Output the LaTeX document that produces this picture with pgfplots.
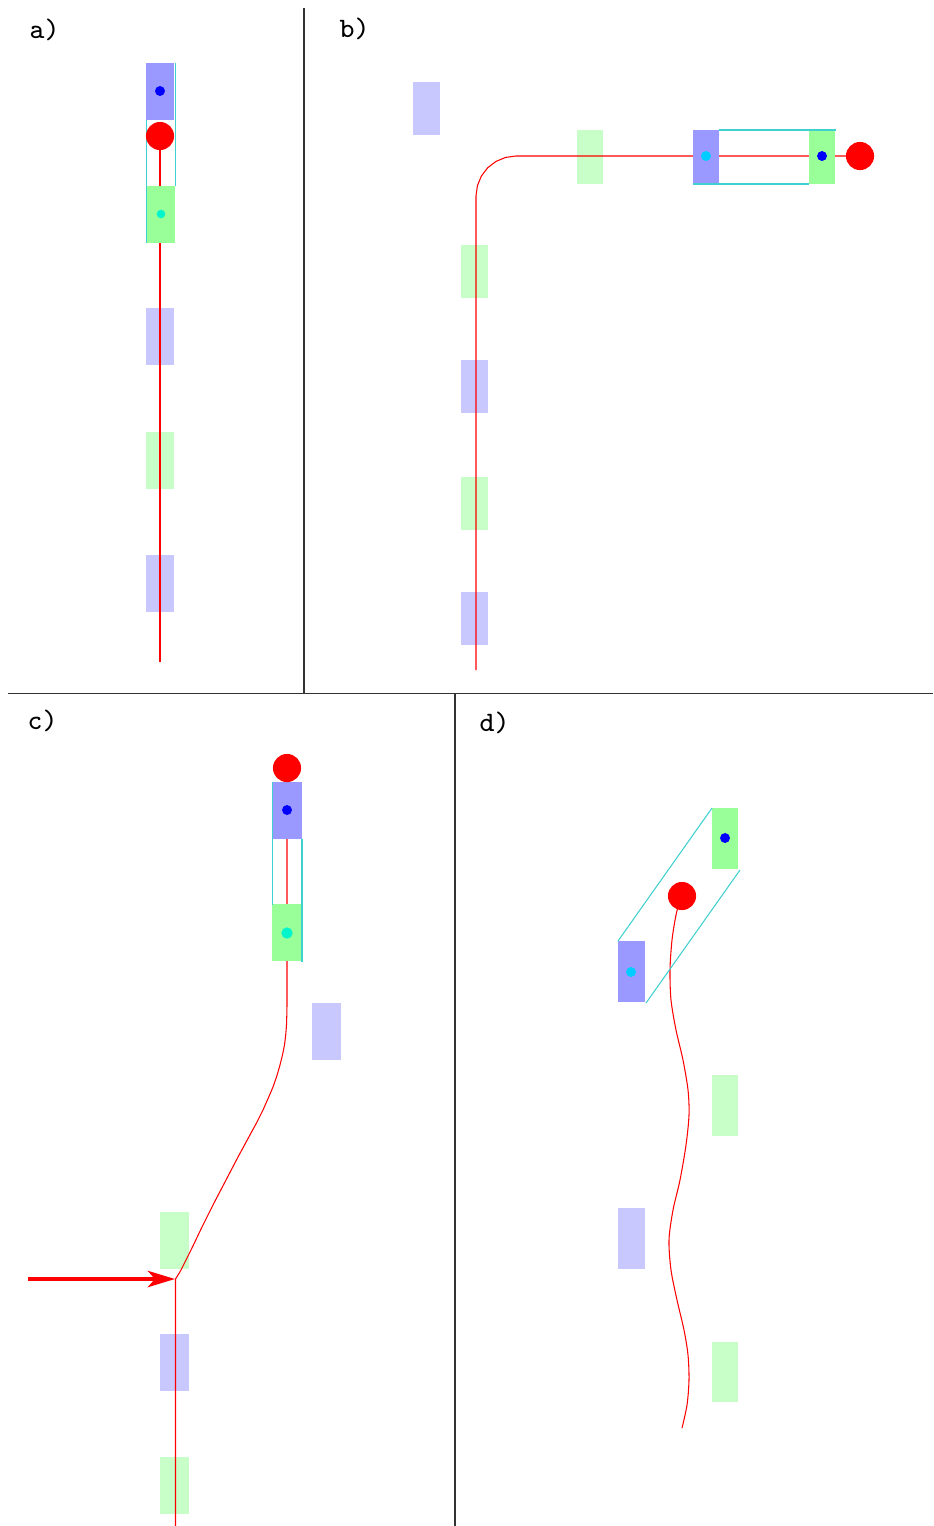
\documentclass[border=0pt]{standalone}
\usepackage{pgfplots}
\pgfplotsset{compat=1.18}
\usetikzlibrary{arrows.meta}
\definecolor{dblue}{RGB}{153,153,255}
\definecolor{dgreen}{RGB}{153,255,153}
\definecolor{lblue}{RGB}{200,200,255}
\definecolor{lgreen}{RGB}{200,255,200}
\definecolor{outl}{RGB}{64,208,208}
\definecolor{cdotb}{RGB}{0,205,255}
\definecolor{cdotg}{RGB}{0,245,205}
\definecolor{traj}{RGB}{255,0,0}
\newcommand{\rect}[5]{\addplot[fill=#1,draw=none,forget plot] coordinates {(#2,#3) (#4,#3) (#4,#5) (#2,#5)};}
\begin{document}
\begin{tikzpicture}
\begin{axis}[
  width=9.33cm, height=15.26cm, scale only axis,
  xmin=0, xmax=933, ymin=0, ymax=1526, y dir=reverse,
  hide axis, clip=false,
]
% panel separators
\addplot[draw=black!80, line width=0.4pt, mark=none] coordinates {(304,8) (304,694)};
\addplot[draw=black!80, line width=0.4pt, mark=none] coordinates {(8,693.5) (933,693.5)};
\addplot[draw=black!80, line width=0.4pt, mark=none] coordinates {(455,694) (455,1526)};
% light rectangles
\rect{lblue}{146}{308}{174}{365}
\rect{lgreen}{146}{432}{174}{489}
\rect{lblue}{146}{555}{174}{612}
\rect{lblue}{413}{82}{440}{135}
\rect{lgreen}{577}{130}{603}{184}
\rect{lgreen}{461}{245}{488}{298}
\rect{lblue}{461}{360}{488}{413}
\rect{lgreen}{461}{477}{488}{530}
\rect{lblue}{461}{592}{488}{645}
\rect{lblue}{312}{1003}{341}{1060}
\rect{lgreen}{160}{1212}{189}{1269}
\rect{lblue}{160}{1334}{189}{1391}
\rect{lgreen}{160}{1457}{189}{1514}
\rect{lgreen}{712}{1075}{738}{1136}
\rect{lblue}{618}{1208}{645}{1269}
\rect{lgreen}{712}{1342}{738}{1402}
% red trajectories
\addplot[draw=traj, line width=0.3pt, mark=none] coordinates {(160,136) (160,662)};
\addplot[draw=traj, line width=0.3pt, mark=none] coordinates {(476,670) (476,196) (477.4,185.6) (481.4,176) (487.7,167.7) (496,161.4) (505.6,157.4) (516,156) (860,156)};
\addplot[draw=traj, line width=0.3pt, mark=none, line join=round] coordinates {(287,768) (287,1005) (286.8,1015) (286.5,1025) (285.7,1035) (284.5,1045) (282.5,1055) (280,1065) (276.8,1076) (273,1087) (268.3,1098) (263,1110) (257,1122) (251,1133) (244.5,1145) (238,1157) (232,1168.5) (226,1180) (220,1191.5) (214,1203) (208,1215) (202,1227) (196.5,1238.5) (191,1250) (186,1260) (181,1270) (178,1275) (175.5,1279) (175.5,1526)};
\addplot[draw=traj, line width=0.3pt, mark=none, smooth] coordinates {(681,896) (676,915) (672,940) (670,970) (671,1000) (676,1030) (683,1060) (688,1090) (689,1115) (686,1145) (680,1180) (673,1210) (669,1240) (671,1270) (677,1300) (684,1330) (688,1355) (689,1380) (687,1405) (682,1428)};
\addplot[draw=traj, line width=1.2pt, mark=none, -{Stealth[length=7.7pt,width=4.6pt,inset=2pt]}] coordinates {(28,1279) (175,1279)};
% dark rectangles
\rect{dblue}{146}{63}{174}{120}
\rect{dgreen}{147}{186}{175}{243}
\rect{dblue}{693}{130}{719}{184}
\rect{dgreen}{809}{130}{835}{184}
\rect{dblue}{272}{782}{302}{839}
\rect{dgreen}{272}{904}{302}{961}
\rect{dgreen}{712}{808}{738}{869}
\rect{dblue}{618}{941}{645}{1002}
% outlines
\addplot[draw=outl, line width=0.3pt, mark=none] coordinates {(146.5,120) (146.5,243)};
\addplot[draw=outl, line width=0.3pt, mark=none] coordinates {(175.5,63) (175.5,186)};
\addplot[draw=outl, line width=0.3pt, mark=none] coordinates {(719,130) (836,130)};
\addplot[draw=outl, line width=0.3pt, mark=none] coordinates {(693,184) (809,184)};
\addplot[draw=outl, line width=0.3pt, mark=none] coordinates {(272.5,782) (272.5,905)};
\addplot[draw=outl, line width=0.3pt, mark=none] coordinates {(302,839) (302,962)};
\addplot[draw=outl, line width=0.3pt, mark=none] coordinates {(618,941) (712,808)};
\addplot[draw=outl, line width=0.3pt, mark=none] coordinates {(646,1003) (740,870)};
% dots
\addplot[only marks, mark=*, mark size=1.2pt, color=blue, mark options={draw=blue, fill=blue}] coordinates {(160,91) (822,156) (287,810) (725,838)};
\addplot[only marks, mark=*, mark size=1.2pt, color=cdotb, mark options={draw=cdotb, fill=cdotb}] coordinates {(706,156) (631,972)};
\addplot[only marks, mark=*, mark size=1.0pt, color=cdotg, mark options={draw=cdotg, fill=cdotg}] coordinates {(161,214)};
\addplot[only marks, mark=*, mark size=1.4pt, color=cdotg, mark options={draw=cdotg, fill=cdotg}] coordinates {(287,933)};
% red circles
\addplot[only marks, mark=*, mark size=3.8pt, color=red, mark options={draw=red, fill=red}] coordinates {(160,136) (860,156) (287,768) (682,896)};
% labels
\node[anchor=base west, inner sep=0pt, font=\fontsize{8}{9}\ttfamily] at (axis cs:29,38) {a)};
\node[anchor=base west, inner sep=0pt, font=\fontsize{8}{9}\ttfamily] at (axis cs:339,37) {b)};
\node[anchor=base west, inner sep=0pt, font=\fontsize{8}{9}\ttfamily] at (axis cs:27,729) {c)};
\node[anchor=base west, inner sep=0pt, font=\fontsize{8}{9}\ttfamily] at (axis cs:479,731) {d)};
\end{axis}
\pgfresetboundingbox
\useasboundingbox (current axis.south west) rectangle (current axis.north east);
\end{tikzpicture}
\end{document}
